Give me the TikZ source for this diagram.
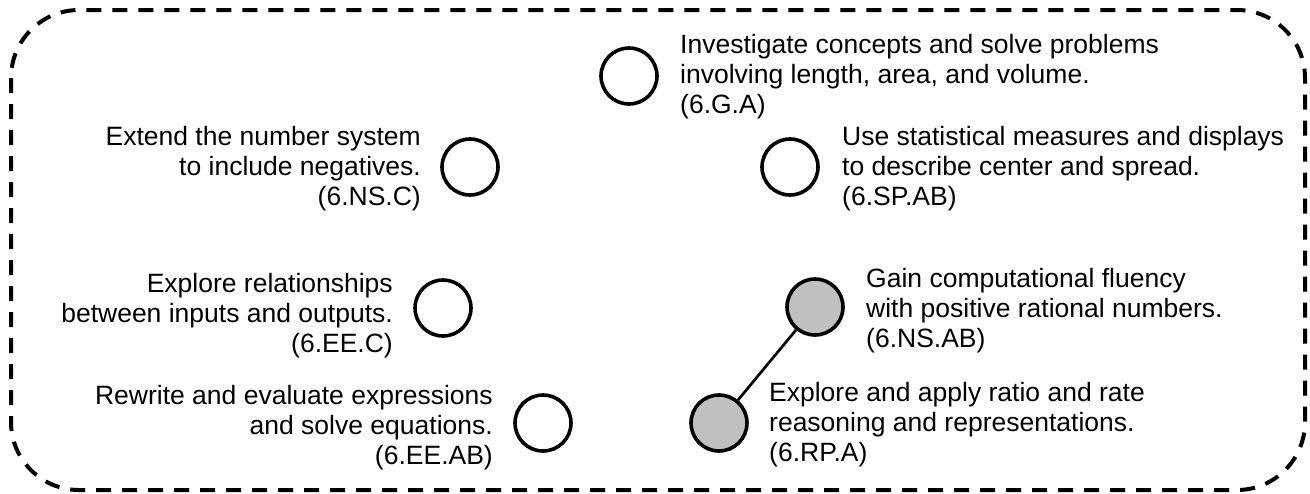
\documentclass[tikz,border=0pt]{standalone}
\usepackage{fontspec}
\setmainfont{Liberation Sans}
\definecolor{dotgray}{HTML}{C0C0C0}
\begin{document}
\begin{tikzpicture}[x=1pt,y=-1pt,
  frame/.style={draw=black,line width=4pt,dash pattern=on 15pt off 11pt,rounded corners=68pt},
  dot/.style={circle,draw=black,line width=3.6pt,minimum size=56pt,inner sep=0pt},
  done/.style={dot,fill=dotgray},
  open/.style={dot,fill=white},
  lbl/.style={inner sep=0pt,font=\fontsize{26.5}{30}\selectfont},
  lblL/.style={lbl,align=left,anchor=base west},
  lblR/.style={lbl,align=right,anchor=base east},
  link/.style={draw=black,line width=2.7pt}]
\useasboundingbox (0,0) rectangle (1310,493);
% dashed outline
\draw[frame] (11,10) rectangle (1305,490);

% cluster circles
\node[open] (ga)   at (629,76)  {};
\node[open] (nsc)  at (470,167) {};
\node[open] (spab) at (790,167) {};
\node[open] (eec)  at (443,308) {};
\node[done] (nsab) at (815,307) {};
\node[open] (eeab) at (543,423) {};
\node[done] (rpa)  at (719,423) {};

% dependency between the two completed clusters
\draw[link] (rpa) -- (nsab);

% labels (positioned by the baseline of their last line)
\node[lblL] (tga)   at (680,113) {Investigate concepts and solve problems\\involving length, area, and volume.\\(6.G.A)};
\node[lblR] (tnsc)  at (421,205) {Extend the number system\\to include negatives.\\(6.NS.C)};
\node[lblL] (tspab) at (842,205) {Use statistical measures and displays\\to describe center and spread.\\(6.SP.AB)};
\node[lblR] (teec)  at (393,352) {Explore relationships\\between inputs and outputs.\\(6.EE.C)};
\node[lblL] (tnsab) at (866,347) {Gain computational fluency\\with positive rational numbers.\\(6.NS.AB)};
\node[lblR] (teeab) at (493,464) {Rewrite and evaluate expressions\\and solve equations.\\(6.EE.AB)};
\node[lblL] (trpa)  at (769,461) {Explore and apply ratio and rate\\reasoning and representations.\\(6.RP.A)};
\end{tikzpicture}
\end{document}
